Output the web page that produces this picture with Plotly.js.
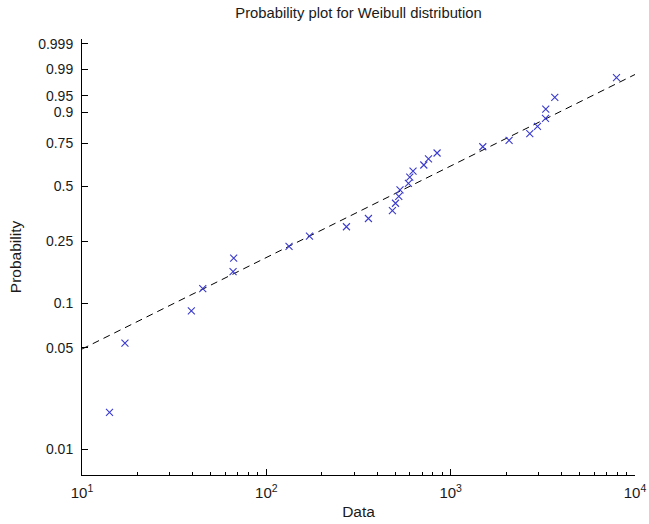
<!DOCTYPE html>
<html>
<head>
<meta charset="utf-8">
<script src="https://cdn.plot.ly/plotly-3.0.1.min.js"></script>
<style>html,body{margin:0;padding:0;background:#fff;}#chart{width:649px;height:524px;}</style>
</head>
<body>
<div id="chart"></div>
<script>
var dataValues = [14.1, 17.1, 39.2, 45.2, 66.0, 66.5, 132.8, 171.4, 272, 358,
                  483, 502, 523, 531, 590, 600, 625, 715, 758, 844,
                  1494, 2075, 2687, 2958, 3269, 3280, 3671, 7937];
var probValues = [0.018, 0.054, 0.089, 0.125, 0.161, 0.196, 0.232, 0.268, 0.304, 0.339,
                  0.375, 0.411, 0.446, 0.482, 0.518, 0.554, 0.589, 0.625, 0.661, 0.696,
                  0.732, 0.768, 0.804, 0.839, 0.875, 0.911, 0.946, 0.982];
// Fitted Weibull reference line parameters
var fitScale = 1057;
var fitShape = 0.641;
var fitXRange = [10, 10000];
// Tick labels
var yTickProbs = [0.01, 0.05, 0.1, 0.25, 0.5, 0.75, 0.9, 0.95, 0.99, 0.999];
var yTickLabels = ['0.01', '0.05', '0.1', '0.25', '0.5', '0.75', '0.9', '0.95', '0.99', '0.999'];
var xTickVals = [10, 100, 1000, 10000];
var xTickLabels = ['10<sup>1</sup>', '10<sup>2</sup>', '10<sup>3</sup>', '10<sup>4</sup>'];

function wb(p) { return Math.log(-Math.log(1 - p)); }

var yPts = probValues.map(wb);
var lineY = fitXRange.map(function (x) { return fitShape * (Math.log(x) - Math.log(fitScale)); });

var minorVals = [];
[10, 100, 1000].forEach(function (d) { for (var k = 2; k <= 9; k++) minorVals.push(k * d); });

var fam = 'Liberation Sans, Arial, sans-serif';
var tickFont = {family: fam, size: 14, color: '#1a1a1a'};
var xTickFont = {family: fam, size: 15, color: '#1a1a1a'};
var labFont = {family: fam, size: 15.5, color: '#1a1a1a'};

var traces = [
  {x: fitXRange, y: lineY, type: 'scatter', mode: 'lines',
   line: {color: '#000', width: 1, dash: '7px,5px'}, showlegend: false},
  {x: dataValues, y: yPts, type: 'scatter', mode: 'markers',
   marker: {symbol: 'x-thin-open', size: 7, color: '#3a3ad0', line: {width: 1.1, color: '#3a3ad0'}},
   hoverinfo: 'x+y', showlegend: false},
  {x: [100], y: [0], xaxis: 'x2', type: 'scatter', mode: 'markers',
   marker: {opacity: 0}, hoverinfo: 'skip', showlegend: false}
];

var xr = [1, 4];
var layout = {
  width: 649, height: 524,
  margin: {l: 82, r: 14, t: 39, b: 49},
  paper_bgcolor: '#fff', plot_bgcolor: '#fff',
  font: tickFont,
  title: {text: 'Probability plot for Weibull distribution', font: {family: fam, size: 14.8, color: '#1a1a1a'},
          x: 0.5, xref: 'paper', y: 1, yref: 'container', yanchor: 'top', pad: {t: 8}},
  xaxis: {type: 'log', range: xr, tickmode: 'array', tickvals: xTickVals, ticktext: xTickLabels,
          ticks: 'inside', ticklen: 6, tickcolor: '#000', showline: true, linecolor: '#000', linewidth: 1,
          showgrid: false, zeroline: false, mirror: false, ticklabelstandoff: 4, tickfont: xTickFont,
          title: {text: 'Data', font: labFont, standoff: 6}},
  xaxis2: {type: 'log', range: xr, overlaying: 'x', anchor: 'y', side: 'bottom', tickmode: 'array',
           tickvals: minorVals, showticklabels: false, ticks: 'inside', ticklen: 3, tickcolor: '#000',
           showline: false, showgrid: false, zeroline: false},
  yaxis: {range: [-5.019, 2.013], tickmode: 'array', tickvals: yTickProbs.map(wb), ticktext: yTickLabels,
          ticks: 'inside', ticklen: 6, tickcolor: '#000', showline: true, linecolor: '#000', linewidth: 1,
          showgrid: false, zeroline: false, ticklabelstandoff: 5, tickfont: tickFont,
          title: {text: 'Probability', font: labFont, standoff: 12}},
  showlegend: false
};

Plotly.newPlot('chart', traces, layout, {displayModeBar: false, staticPlot: true});
</script>
</body>
</html>
